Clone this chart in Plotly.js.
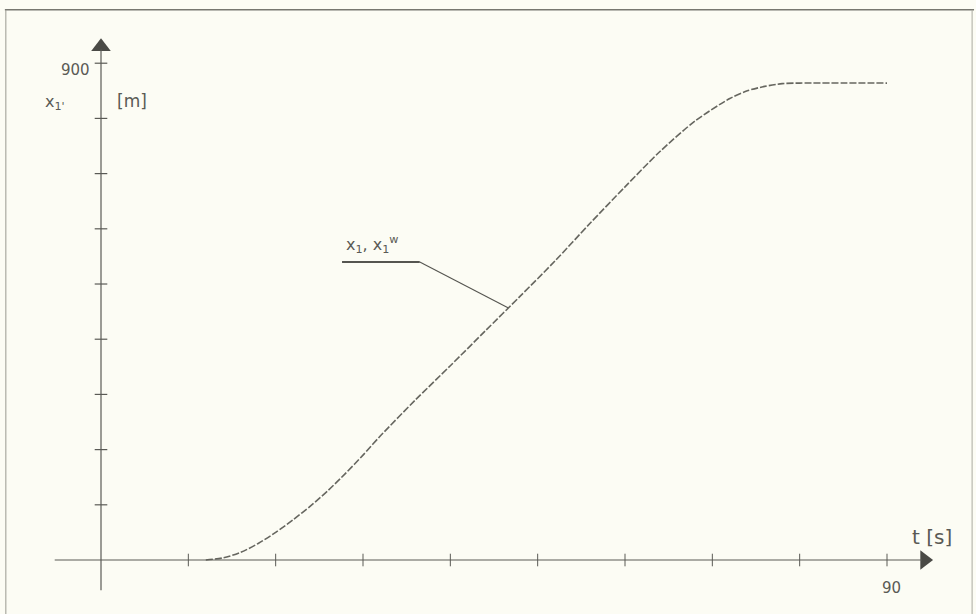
<!DOCTYPE html>
<html>
<head>
<meta charset="utf-8">
<script src="https://cdn.plot.ly/plotly-3.0.1.min.js"></script>
<style>html,body{margin:0;padding:0;background:#fcfcf4;}#chart{width:976px;height:614px;}</style>
</head>
<body>
<div id="chart"></div>
<script>
// Data
const tValues = [12, 14, 16, 18, 20, 22, 24, 26, 28, 30, 32, 36, 40, 44, 48, 52, 56, 60, 64, 68, 72, 74, 76, 78, 80, 90];
const xValues = [0, 4, 14, 30, 50, 73, 98, 126, 157, 190, 225, 290, 352, 415, 478, 542, 610, 676, 740, 795, 836, 850, 858, 863, 864, 864];
const xTickVals = [10, 20, 30, 40, 50, 60, 70, 80, 90];
const yTickVals = [100, 200, 300, 400, 500, 600, 700, 800, 900];
const xTickLabels = {90: "90"};
const yTickLabels = {900: "900"};

const ink = "#5a5a55";

const traces = [
  {x: tValues, y: xValues, mode: "lines", type: "scatter",
   line: {color: "#66665f", width: 1.6, dash: "7px,2px", shape: "spline", smoothing: 0.8}, hoverinfo: "skip"},
  {x: xTickVals, y: xTickVals.map(() => 0), mode: "markers", type: "scatter",
   marker: {symbol: "line-ns", size: 9, line: {color: ink, width: 1}}, hoverinfo: "skip"},
  {x: yTickVals.map(() => 0), y: yTickVals, mode: "markers", type: "scatter",
   marker: {symbol: "line-ew", size: 9, line: {color: ink, width: 1.2}}, hoverinfo: "skip"},
  // axis arrowheads
  {x: [94.3], y: [0], mode: "markers", type: "scatter",
   marker: {symbol: "triangle-right", size: 17, color: "#4a4a46"}, hoverinfo: "skip"},
  {x: [0], y: [930], mode: "markers", type: "scatter",
   marker: {symbol: "triangle-up", size: 17, color: "#4a4a46"}, hoverinfo: "skip"}
];

const annotations = [];
const f = (s) => ({family: "DejaVu Sans", size: s, color: ink});
// tick labels
xTickVals.forEach(v => { if (xTickLabels[v]) annotations.push({x: v, y: -50, xref: "x", yref: "y", text: xTickLabels[v], showarrow: false, xshift: 4, font: f(15)}); });
yTickVals.forEach(v => { if (yTickLabels[v]) annotations.push({x: -1.0, y: v, xref: "x", yref: "y", text: yTickLabels[v], showarrow: false, xanchor: "right", yshift: -7, font: f(15)}); });
// axis titles
annotations.push({x: 95.2, y: 42, xref: "x", yref: "y", text: "t [s]", showarrow: false, font: f(20)});
annotations.push({x: -5.3, y: 828, xref: "x", yref: "y", text: "x<sub>1'</sub>", showarrow: false, font: f(16)});
annotations.push({x: 3.6, y: 832, xref: "x", yref: "y", text: "[m]", showarrow: false, font: f(17)});
// curve label with leader line
annotations.push({x: 27.8, y: 572, xref: "x", yref: "y", text: "x<sub>1</sub>, x<sub>1</sub><sup>w</sup>", showarrow: false, xanchor: "left", font: f(16)});

const shapes = [
  // axis lines
  {type: "line", xref: "x", yref: "y", x0: -5.3, y0: 0, x1: 94, y1: 0, line: {color: ink, width: 1.2}},
  {type: "line", xref: "x", yref: "y", x0: 0, y0: -55, x1: 0, y1: 925, line: {color: ink, width: 1.2}},
  // leader line for curve label
  {type: "line", xref: "x", yref: "y", x0: 27.6, y0: 540, x1: 36.5, y1: 540, line: {color: "#555550", width: 2}},
  {type: "line", xref: "x", yref: "y", x0: 36.5, y0: 540, x1: 46.6, y1: 457, line: {color: "#555550", width: 1.1}},
  // scanned frame
  {type: "line", xref: "paper", yref: "paper", x0: 0.005, y0: 0.984, x1: 0.998, y1: 0.984, line: {color: "#777770", width: 1.6}},
  {type: "line", xref: "paper", yref: "paper", x0: 0.006, y0: 0.984, x1: 0.006, y1: 0.0, line: {color: "#999990", width: 1}},
  {type: "line", xref: "paper", yref: "paper", x0: 0.996, y0: 0.984, x1: 0.996, y1: 0.0, line: {color: "#aaaaa0", width: 1}}
];

const layout = {
  width: 976, height: 614,
  margin: {l: 0, r: 0, t: 0, b: 0},
  paper_bgcolor: "#fcfcf4", plot_bgcolor: "#fcfcf4",
  showlegend: false,
  xaxis: {range: [-11.565, 100.19], visible: false, fixedrange: true},
  yaxis: {range: [-97.8, 1014.5], visible: false, fixedrange: true},
  annotations: annotations, shapes: shapes
};

Plotly.newPlot("chart", traces, layout, {displayModeBar: false, staticPlot: true});
</script>
</body>
</html>
